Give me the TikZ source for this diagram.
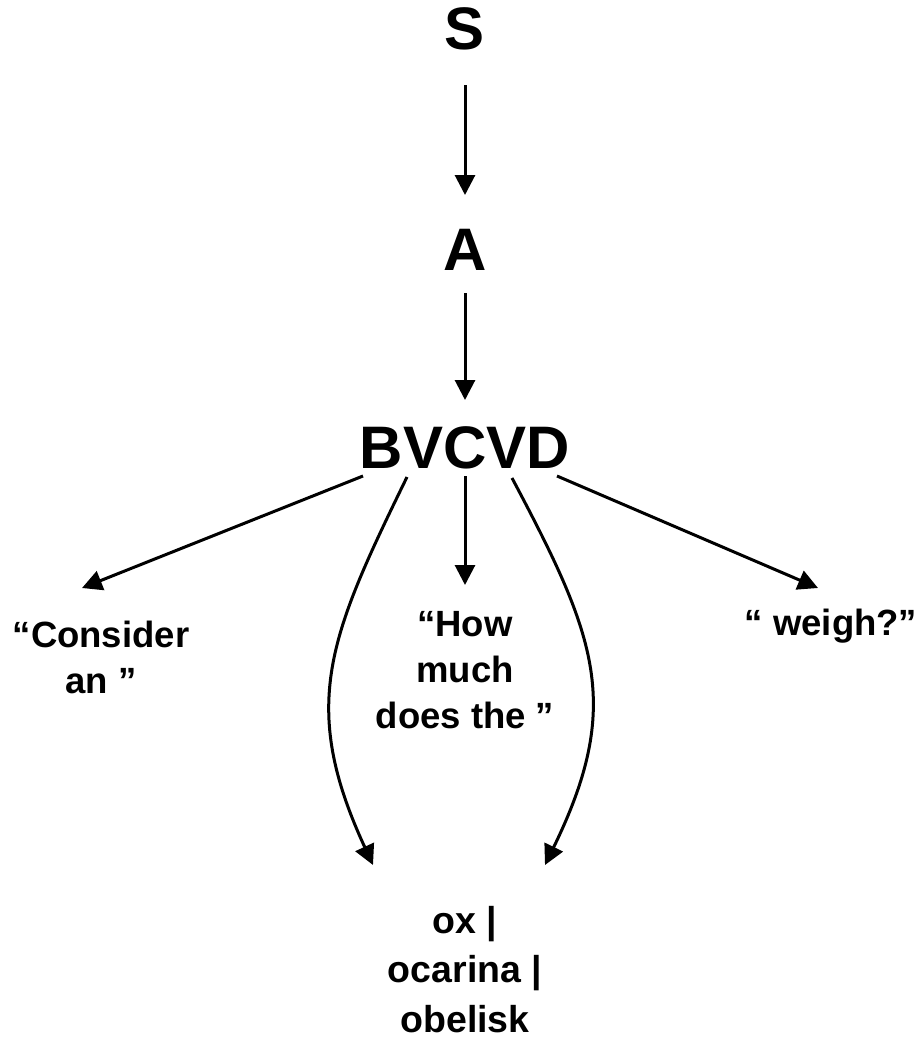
\documentclass[tikz,border=0pt]{standalone}
\usepackage{fontspec}
\setmainfont{Liberation Sans}
\usetikzlibrary{arrows.meta,calc}

\begin{document}
\begin{tikzpicture}[x=1pt,y=-1pt,
  big/.style={font=\fontsize{60}{70}\selectfont\bfseries, inner sep=0pt, anchor=base},
  word/.style={font=\fontsize{36.5}{46}\selectfont\bfseries, inner sep=0pt, anchor=base, align=center},
  leaf/.style={font=\fontsize{37.5}{49.5}\selectfont\bfseries, inner sep=0pt, anchor=base, align=center},
  arr/.style={line width=3pt, -{Triangle[length=20pt,width=20pt]}},
]
\useasboundingbox (0,0) rectangle (920,1041);

% derivation chain
\node[big] (s)  at (465,49)  {S};
\node[big] (a)  at (465,270) {A};
\node[big] (bv) at (465,468) {BVCVD};

% expansions of BVCVD (base anchor = baseline of the last line)
\node[word] (con) at (101,693)  {“Consider\\an ”};
\node[word] (how) at (465,728)  {“How\\much\\does the ”};
\node[word] (wei) at (831,635)  {“ weigh?”};
\node[leaf] (ox)  at (465,1032) {ox |\\ocarina |\\obelisk};

% straight connectors
\draw[arr] ($(s.base)+(0,36)$)    -- ($(a.base)+(0,-75)$);
\draw[arr] ($(a.base)+(0,23)$)    -- ($(bv.base)+(0,-68)$);
\draw[arr] ($(bv.base)+(0,8)$)    -- ($(how.base)+(0,-143)$);
\draw[arr] ($(bv.base)+(-102,8)$) -- ($(con.base)+(-19,-105)$);
\draw[arr] ($(bv.base)+(92,8)$)   -- ($(wei.base)+(-13,-47)$);

% curved connectors to the alternatives
\draw[arr] ($(bv.base)+(-58,9)$) .. controls +(-78,160) and +(-74,-160) .. ($(ox.base)+(-92,-167)$);
\draw[arr] ($(bv.base)+(47,10)$) .. controls +(85,160) and +(78,-160) .. ($(ox.base)+(80,-167)$);
\end{tikzpicture}
\end{document}
